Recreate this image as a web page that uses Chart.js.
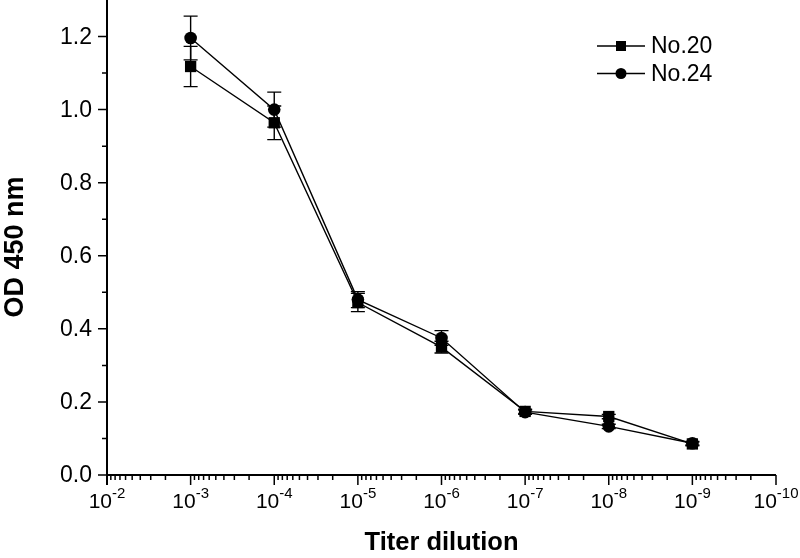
<!DOCTYPE html>
<html><head><meta charset="utf-8">
<script src="https://cdn.jsdelivr.net/npm/chart.js@4.4.1/dist/chart.umd.min.js"></script>
<style>html,body{margin:0;padding:0;background:#fff}#wrap{width:800px;height:558px}</style>
</head><body><div id="wrap"><canvas id="c" width="800" height="558"></canvas></div>
<script>
const dilutions = [1e-3, 1e-4, 1e-5, 1e-6, 1e-7, 1e-8, 1e-9];
const no20 = [1.118, 0.964, 0.472, 0.350, 0.174, 0.160, 0.085];
const no20Err = [0.055, 0.046, 0.025, 0.016, 0.006, 0.006, 0.005];
const no24 = [1.196, 1.000, 0.480, 0.375, 0.172, 0.133, 0.087];
const no24Err = [0.060, 0.048, 0.022, 0.020, 0.006, 0.006, 0.005];
const seriesNames = ['No.20', 'No.24'];
const yTicks = [0, 0.2, 0.4, 0.6, 0.8, 1.0, 1.2];
const yMinorTicks = [0.1, 0.3, 0.5, 0.7, 0.9, 1.1];
const xTickExponents = [-2, -3, -4, -5, -6, -7, -8, -9, -10];
const yTitle = 'OD 450 nm';
const xTitle = 'Titer dilution';

const FONT = '"Liberation Sans", Arial, Helvetica, sans-serif';

const toPts = (ys) => dilutions.map((d, i) => ({x: d, y: ys[i]}));

const errorBars = {
  id: 'errorBars',
  beforeDatasetsDraw(chart) {
    const ctx = chart.ctx, xs = chart.scales.x, ys = chart.scales.y;
    const errs = [no20Err, no24Err];
    const vals = [no20, no24];
    ctx.save();
    ctx.strokeStyle = '#000';
    ctx.lineWidth = 1.4;
    errs.forEach((e, s) => {
      dilutions.forEach((d, i) => {
        const px = xs.getPixelForValue(d);
        const y1 = ys.getPixelForValue(vals[s][i] + e[i]);
        const y2 = ys.getPixelForValue(vals[s][i] - e[i]);
        ctx.beginPath();
        ctx.moveTo(px, y1); ctx.lineTo(px, y2);
        ctx.moveTo(px - 7, y1); ctx.lineTo(px + 7, y1);
        ctx.moveTo(px - 7, y2); ctx.lineTo(px + 7, y2);
        ctx.stroke();
      });
    });
    ctx.restore();
  }
};

const axesDecor = {
  id: 'axesDecor',
  afterDraw(chart) {
    const ctx = chart.ctx, xs = chart.scales.x, ys = chart.scales.y;
    const ca = chart.chartArea;
    ctx.save();
    ctx.strokeStyle = '#000';
    ctx.fillStyle = '#000';
    ctx.lineWidth = 2;
    // axis lines
    ctx.beginPath();
    ctx.moveTo(ca.left, 0); ctx.lineTo(ca.left, ca.bottom + 10);
    ctx.moveTo(ca.left, ca.bottom); ctx.lineTo(ca.right, ca.bottom);
    ctx.stroke();
    // y ticks
    ctx.lineWidth = 1.5;
    ctx.beginPath();
    yTicks.forEach(v => { const p = ys.getPixelForValue(v); ctx.moveTo(ca.left - 9, p); ctx.lineTo(ca.left, p); });
    yMinorTicks.forEach(v => { const p = ys.getPixelForValue(v); ctx.moveTo(ca.left - 5, p); ctx.lineTo(ca.left, p); });
    // x ticks
    xTickExponents.forEach((ex, i) => {
      const p = xs.getPixelForValue(Math.pow(10, ex));
      ctx.moveTo(p, ca.bottom); ctx.lineTo(p, ca.bottom + 10);
      if (i < xTickExponents.length - 1) {
        for (let k = 2; k <= 9; k++) {
          const m = xs.getPixelForValue(k * Math.pow(10, ex - 1));
          ctx.moveTo(m, ca.bottom); ctx.lineTo(m, ca.bottom + 5);
        }
      }
    });
    ctx.stroke();
    // y labels
    ctx.font = '23px ' + FONT;
    ctx.textAlign = 'right';
    ctx.textBaseline = 'middle';
    yTicks.forEach(v => { ctx.fillText(v.toFixed(1), 92, ys.getPixelForValue(v) + 1); });
    // y title
    ctx.save();
    ctx.translate(16, 247);
    ctx.rotate(-Math.PI / 2);
    ctx.font = 'bold 27px ' + FONT;
    ctx.textAlign = 'center';
    ctx.textBaseline = 'middle';
    ctx.fillText(yTitle, 0, 0);
    ctx.restore();
    // x labels with superscripts
    xTickExponents.forEach(ex => {
      const p = xs.getPixelForValue(Math.pow(10, ex));
      const base = '10', sup = String(ex);
      ctx.font = '21px ' + FONT;
      const wb = ctx.measureText(base).width;
      ctx.font = '15px ' + FONT;
      const ws = ctx.measureText(sup).width;
      const start = p - (wb + ws) / 2;
      ctx.textAlign = 'left';
      ctx.textBaseline = 'alphabetic';
      ctx.font = '21px ' + FONT;
      ctx.fillText(base, start, 508);
      ctx.font = '15px ' + FONT;
      ctx.fillText(sup, start + wb, 498);
    });
    // legend
    const ds = chart.data.datasets;
    ds.forEach((d, i) => {
      const cy = 46 + i * 27.5;
      ctx.lineWidth = 1.4;
      ctx.beginPath();
      ctx.moveTo(597, cy); ctx.lineTo(645, cy);
      ctx.stroke();
      if (d.pointStyle === 'rect') {
        ctx.fillRect(621 - 5, cy - 5, 10, 10);
      } else {
        ctx.beginPath(); ctx.arc(621, cy, 5.5, 0, Math.PI * 2); ctx.fill();
      }
      ctx.font = '23px ' + FONT;
      ctx.textAlign = 'left';
      ctx.textBaseline = 'middle';
      ctx.fillText(seriesNames[i], 651, cy + 1);
    });
    ctx.restore();
  }
};

new Chart(document.getElementById('c'), {
  type: 'line',
  data: {
    datasets: [
      {label: seriesNames[0], data: toPts(no20), borderColor: '#000', backgroundColor: '#000', borderWidth: 1.4,
       pointStyle: 'rect', pointRadius: 8, pointBorderWidth: 0, pointBackgroundColor: '#000', tension: 0},
      {label: seriesNames[1], data: toPts(no24), borderColor: '#000', backgroundColor: '#000', borderWidth: 1.4,
       pointStyle: 'circle', pointRadius: 6.3, pointBorderWidth: 0, pointBackgroundColor: '#000', tension: 0}
    ]
  },
  options: {
    responsive: false,
    animation: false,
    devicePixelRatio: 1,
    layout: {autoPadding: false, padding: {left: 0, right: 24, top: 0, bottom: 0}},
    plugins: {legend: {display: false}, tooltip: {enabled: false}},
    scales: {
      x: {
        type: 'logarithmic', min: 1e-10, max: 1e-2, reverse: true,
        grid: {display: false}, border: {display: false},
        ticks: {display: false},
        title: {display: true, text: xTitle, color: '#000', font: {family: FONT, size: 25.5, weight: 'bold'}, padding: {top: 0, bottom: 0}},
        afterFit(s) { s.height = 83; }
      },
      y: {
        min: 0, max: 1.3,
        grid: {display: false}, border: {display: false},
        afterBuildTicks(s) { s.ticks = yTicks.map(v => ({value: v})); },
        ticks: {display: false},
        title: {display: false, text: yTitle},
        afterFit(s) { s.width = 107; }
      }
    }
  },
  plugins: [errorBars, axesDecor]
});
</script>
</body></html>
